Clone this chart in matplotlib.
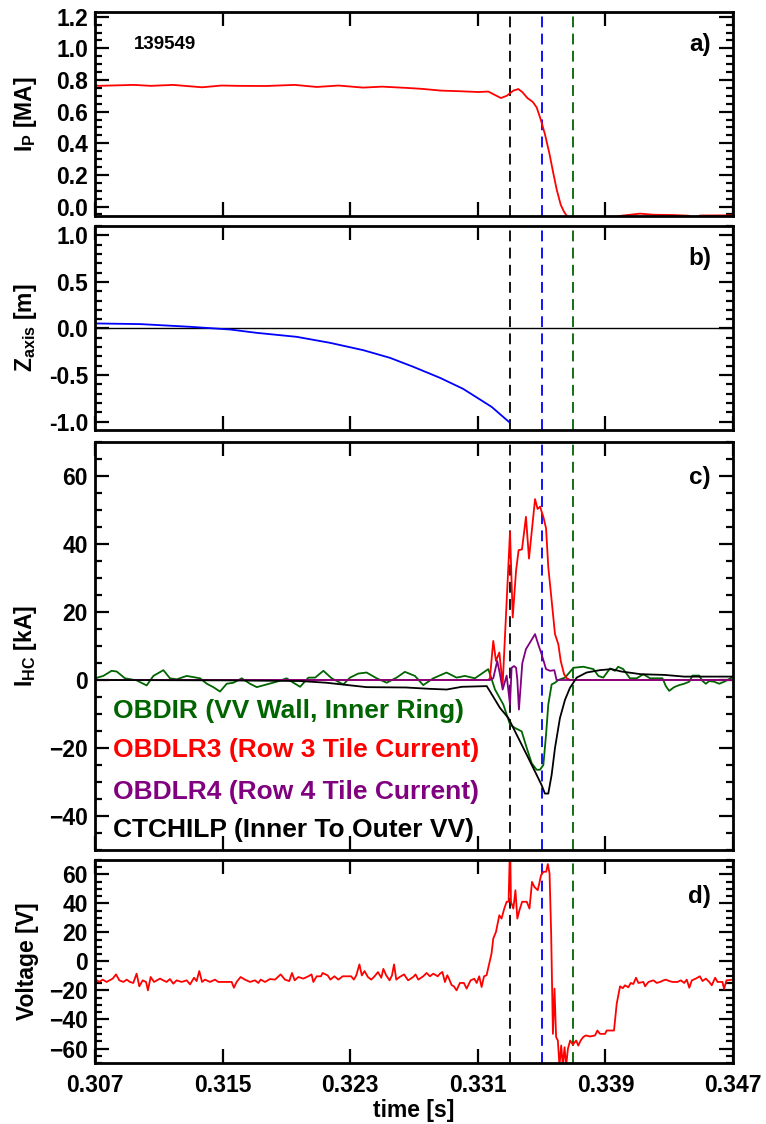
import numpy as np
import matplotlib
matplotlib.use('Agg')
import matplotlib.pyplot as plt
from matplotlib.ticker import MultipleLocator, FixedLocator

plt.rcParams['font.family'] = ['Liberation Sans', 'DejaVu Sans']
plt.rcParams['font.weight'] = 'bold'
plt.rcParams['mathtext.fontset'] = 'custom'
plt.rcParams['mathtext.bf'] = 'Liberation Sans:bold'
plt.rcParams['mathtext.rm'] = 'Liberation Sans:bold'
plt.rcParams['mathtext.it'] = 'Liberation Sans:bold'

# ---------------- data ----------------
shot = "139549"
event_times = [0.333, 0.335, 0.337]
event_colors = ['black', '#0000ff', '#006400']
xticks = [0.307, 0.315, 0.323, 0.331, 0.339, 0.347]

# (a) plasma current [MA]
ip_t = [0.30700, 0.30720, 0.30945, 0.31050, 0.31189, 0.31371, 0.31494, 0.31600, 0.31769,
        0.31952, 0.32090, 0.32227, 0.32380, 0.32500, 0.32654, 0.32750, 0.32868, 0.32988,
        0.33103, 0.33166, 0.33208, 0.33245, 0.33281, 0.33323, 0.33354, 0.33381, 0.33411,
        0.33444, 0.33469, 0.33494, 0.33521, 0.33548, 0.33573, 0.33595, 0.33620, 0.33640,
        0.33661, 0.33700, 0.33800, 0.33900, 0.33980, 0.34002, 0.34117, 0.34200, 0.34326,
        0.34420, 0.34450, 0.34480, 0.34493, 0.34660, 0.34700]
ip_v = [0.769, 0.763, 0.769, 0.763, 0.769, 0.754, 0.765, 0.763, 0.762,
        0.769, 0.756, 0.765, 0.752, 0.758, 0.750, 0.744, 0.733, 0.729,
        0.724, 0.727, 0.705, 0.686, 0.700, 0.733, 0.743, 0.722, 0.686,
        0.662, 0.627, 0.552, 0.457, 0.340, 0.213, 0.106, 0.011, -0.032,
        -0.064, -0.095, -0.105, -0.085, -0.063, -0.058, -0.045, -0.052, -0.054,
        -0.058, -0.068, -0.064, -0.057, -0.056, -0.056]

# (b) magnetic axis height [m]
z_t = [0.30700, 0.30982, 0.31296, 0.31546, 0.31714, 0.31965, 0.32173, 0.32382, 0.32549,
       0.32696, 0.32863, 0.33009, 0.33187, 0.33298]
z_v = [0.054, 0.047, 0.018, -0.011, -0.047, -0.090, -0.154, -0.233, -0.315,
       -0.412, -0.530, -0.649, -0.842, -1.007]

# (c) halo currents [kA]
obdir_t = [0.30700, 0.30752, 0.30804, 0.30836, 0.30888, 0.30961, 0.31024, 0.31066, 0.31129,
           0.31170, 0.31212, 0.31275, 0.31359, 0.31401, 0.31442, 0.31484, 0.31526, 0.31568,
           0.31620, 0.31672, 0.31714, 0.31777, 0.31839, 0.31902, 0.31944, 0.31986, 0.32038,
           0.32080, 0.32132, 0.32184, 0.32257, 0.32299, 0.32351, 0.32403, 0.32466, 0.32529,
           0.32591, 0.32643, 0.32706, 0.32758, 0.32821, 0.32904, 0.32967, 0.33019, 0.33082,
           0.33166, 0.33208, 0.33260, 0.33302, 0.33333, 0.33375, 0.33407, 0.33438, 0.33469,
           0.33490, 0.33511, 0.33528, 0.33542, 0.33563, 0.33584, 0.33605, 0.33647, 0.33700,
           0.33762, 0.33825, 0.33856, 0.33887, 0.33929, 0.33960, 0.33980, 0.34012, 0.34054,
           0.34096, 0.34138, 0.34180, 0.34222, 0.34258, 0.34279, 0.34300, 0.34331, 0.34363,
           0.34394, 0.34426, 0.34446, 0.34488, 0.34509, 0.34530, 0.34551, 0.34582, 0.34614,
           0.34645, 0.34700]
obdir_v = [0.5, 1.2, 2.7, 2.5, 0.5, -0.1, -1.6, 1.2, 2.9,
           0.5, 0.2, 1.2, 0.5, -1.1, -2.1, -3.4, -1.1, -0.8,
           0.5, -1.1, -2.1, -1.3, -0.5, 0.5, -0.8, -2.0, 0.7,
           0.7, 2.7, 0.5, -1.3, 0.7, 1.9, 2.2, 0.5, -0.8,
           0.7, 2.4, 1.2, -1.5, 0.5, 2.2, 0.7, 1.2, 0.5,
           3.2, -2.8, -7.2, -13.1, -14.1, -15.1, -20.0, -24.5, -26.4,
           -26.4, -25.0, -16.1, -7.2, -1.3, -0.8, 0.0, 0.7, 3.6,
           3.9, 3.2, 1.2, 0.7, 3.4, 2.7, 3.9, 3.2, 0.5,
           0.5, 1.7, 0.5, 0.5, 0.5, -1.8, -3.2, -2.1, -1.5,
           -1.1, -0.5, 1.3, 1.3, -0.3, -1.1, -0.3, -0.5, -1.1,
           -0.5, 0.9]

obdlr3_t = [0.30700, 0.33166, 0.33176, 0.33197, 0.33214, 0.33235, 0.33256, 0.33302, 0.33319,
            0.33340, 0.33356, 0.33377, 0.33402, 0.33421, 0.33459, 0.33475, 0.33490, 0.33511,
            0.33528, 0.33542, 0.33563, 0.33584, 0.33605, 0.33620, 0.33641, 0.33658, 0.33680,
            0.34700]
obdlr3_v = [0.0, 0.0, 0.5, 11.5, 5.6, 8.1, -1.3, 43.6, 18.4,
            32.2, 38.2, 38.4, 48.0, 35.7, 53.2, 50.3, 51.0, 48.0,
            44.6, 33.2, 23.4, 13.5, 10.5, 5.6, 1.7, 0.5, 0.0,
            0.0]

obdlr4_t = [0.30700, 0.33176, 0.33197, 0.33222, 0.33239, 0.33256, 0.33281, 0.33302, 0.33312,
            0.33327, 0.33340, 0.33348, 0.33358, 0.33379, 0.33402, 0.33427, 0.33459, 0.33479,
            0.33500, 0.33528, 0.33553, 0.33580, 0.33594, 0.34700]
obdlr4_v = [0.0, 0.0, 0.5, 5.6, 1.7, -2.8, 1.3, -7.2, 3.6,
            4.1, 3.6, 0.0, -8.7, 4.9, 9.1, 11.0, 13.5, 10.5,
            7.6, 3.2, 2.7, 2.9, 0.0, 0.0]

ctchilp_t = [0.30700, 0.31500, 0.31985, 0.32150, 0.32403, 0.32650, 0.32800, 0.32905, 0.33000,
             0.33156, 0.33176, 0.33239, 0.33292, 0.33344, 0.33407, 0.33469, 0.33500, 0.33521,
             0.33542, 0.33563, 0.33584, 0.33615, 0.33647, 0.33678, 0.33720, 0.33782, 0.33866,
             0.33939, 0.34000, 0.34123, 0.34269, 0.34394, 0.34700]
ctchilp_v = [0.0, -0.1, -0.3, -0.8, -2.1, -2.2, -2.6, -2.8, -2.0,
             -1.8, -3.3, -8.2, -11.2, -16.1, -22.0, -27.9, -30.9, -33.4,
             -33.4, -27.9, -20.0, -11.2, -5.8, -2.3, 0.7, 2.2, 2.9,
             3.2, 2.5, 1.7, 1.5, 1.0, 1.0]

hc_labels = ["OBDIR (VV Wall, Inner Ring)", "OBDLR3 (Row 3 Tile Current)",
             "OBDLR4 (Row 4 Tile Current)", "CTCHILP (Inner To Outer VV)"]
hc_colors = ['#006400', '#ff0000', '#800080', '#000000']

# (d) voltage [V]
volt_t = [0.30700, 0.30706, 0.30727, 0.30748, 0.30773, 0.30811, 0.30832, 0.30853, 0.30878,
          0.30899, 0.30919, 0.30940, 0.30961, 0.30978, 0.30999, 0.31020, 0.31032, 0.31049,
          0.31070, 0.31108, 0.31128, 0.31149, 0.31170, 0.31191, 0.31212, 0.31243, 0.31275,
          0.31296, 0.31321, 0.31337, 0.31354, 0.31371, 0.31390, 0.31421, 0.31452, 0.31473,
          0.31505, 0.31557, 0.31571, 0.31588, 0.31613, 0.31640, 0.31672, 0.31703, 0.31724,
          0.31739, 0.31766, 0.31797, 0.31829, 0.31864, 0.31891, 0.31918, 0.31935, 0.31952,
          0.31975, 0.32006, 0.32038, 0.32058, 0.32069, 0.32090, 0.32117, 0.32127, 0.32159,
          0.32176, 0.32201, 0.32226, 0.32253, 0.32306, 0.32323, 0.32338, 0.32358, 0.32373,
          0.32390, 0.32411, 0.32432, 0.32453, 0.32474, 0.32495, 0.32508, 0.32526, 0.32547,
          0.32562, 0.32575, 0.32589, 0.32610, 0.32638, 0.32663, 0.32695, 0.32710, 0.32727,
          0.32758, 0.32779, 0.32800, 0.32821, 0.32849, 0.32863, 0.32878, 0.32894, 0.32909,
          0.32920, 0.32936, 0.32950, 0.32967, 0.32988, 0.33013, 0.33030, 0.33055, 0.33078,
          0.33093, 0.33109, 0.33124, 0.33139, 0.33155, 0.33172, 0.33186, 0.33197, 0.33214,
          0.33235, 0.33249, 0.33266, 0.33281, 0.33293, 0.33300, 0.33304, 0.33308, 0.33323,
          0.33336, 0.33348, 0.33361, 0.33378, 0.33407, 0.33424, 0.33440, 0.33455, 0.33476,
          0.33497, 0.33512, 0.33529, 0.33539, 0.33550, 0.33560, 0.33571, 0.33581, 0.33591,
          0.33602, 0.33612, 0.33623, 0.33633, 0.33644, 0.33654, 0.33665, 0.33679, 0.33696,
          0.33717, 0.33730, 0.33745, 0.33761, 0.33778, 0.33803, 0.33835, 0.33850, 0.33866,
          0.33898, 0.33908, 0.33954, 0.33971, 0.33992, 0.34009, 0.34023, 0.34044, 0.34059,
          0.34075, 0.34092, 0.34107, 0.34138, 0.34149, 0.34170, 0.34201, 0.34222, 0.34243,
          0.34264, 0.34279, 0.34300, 0.34321, 0.34352, 0.34373, 0.34394, 0.34410, 0.34426,
          0.34442, 0.34467, 0.34492, 0.34509, 0.34530, 0.34551, 0.34567, 0.34588, 0.34603,
          0.34634, 0.34644, 0.34659, 0.34700]
volt_v = [-15.3, -12.5, -14.1, -12.5, -14.1, -11.8, -8.9, -13.0, -14.1,
          -12.5, -14.1, -14.8, -8.4, -17.1, -13.0, -14.1, -19.9, -10.7,
          -14.1, -11.8, -13.0, -14.1, -12.1, -15.3, -13.0, -14.1, -13.0,
          -15.8, -11.2, -13.5, -6.6, -14.1, -12.5, -14.1, -12.5, -14.1,
          -14.1, -14.1, -18.1, -14.1, -10.7, -12.5, -14.1, -13.0, -14.8,
          -12.5, -14.1, -12.1, -12.5, -8.9, -12.5, -13.5, -7.9, -13.0,
          -10.7, -11.8, -10.2, -8.9, -14.1, -10.2, -10.2, -7.9, -9.6,
          -12.5, -10.2, -12.5, -10.2, -10.2, -12.5, -9.6, -2.0, -9.6,
          -6.6, -10.7, -12.5, -10.2, -7.3, -11.2, -5.1, -9.6, -13.0,
          -9.6, -2.0, -12.5, -10.7, -8.9, -13.0, -10.7, -8.9, -12.5,
          -10.2, -7.9, -10.2, -8.4, -10.2, -8.4, -7.2, -14.1, -9.5,
          -12.0, -16.3, -17.1, -19.9, -14.8, -14.8, -18.7, -13.0, -11.9,
          -14.8, -10.2, -17.6, -10.2, -9.5, -1.5, 5.4, 15.8, 20.4,
          31.9, 29.6, 36.5, 41.2, 41.2, 72.0, 72.0, 41.2, 36.5,
          49.2, 29.6, 35.3, 41.2, 41.2, 36.5, 54.9, 51.4, 49.2,
          59.6, 61.9, 61.9, 67.2, 60.7, 19.3, -49.9, -18.7, -52.1,
          -54.5, -72.0, -57.9, -72.0, -59.1, -72.0, -60.2, -54.5, -57.3,
          -54.5, -58.0, -54.5, -52.1, -51.0, -51.7, -51.0, -47.6, -49.9,
          -49.9, -47.6, -47.6, -29.1, -17.1, -18.4, -16.4, -17.8, -14.8,
          -15.5, -11.2, -14.8, -14.1, -17.1, -14.1, -13.0, -14.8, -14.1,
          -13.0, -12.5, -13.5, -14.1, -14.1, -13.0, -14.8, -12.5, -18.1,
          -13.0, -11.8, -10.2, -13.5, -11.8, -14.1, -16.4, -11.2, -14.1,
          -14.1, -18.9, -13.0, -12.5]

# ---------------- figure ----------------
fig = plt.figure(figsize=(7.66, 11.24), dpi=100)
L, W = 0.1240, 0.8329
axa = fig.add_axes([L, 0.80783, W, 0.18149])
axb = fig.add_axes([L, 0.61744, W, 0.18149])
axc = fig.add_axes([L, 0.24377, W, 0.36299])
axd = fig.add_axes([L, 0.05427, W, 0.18061])
axes = [axa, axb, axc, axd]

TICKFS = 16.5
LW = 1.3

axa.plot(ip_t, ip_v, color='#ff0000', lw=LW)
axb.axhline(0, color='black', lw=1.0)
axb.plot(z_t, z_v, color='#0000ff', lw=LW)
axc.plot(obdir_t, obdir_v, color=hc_colors[0], lw=LW)
axc.plot(obdlr3_t, obdlr3_v, color=hc_colors[1], lw=LW)
axc.plot(obdlr4_t, obdlr4_v, color=hc_colors[2], lw=LW)
axc.plot(ctchilp_t, ctchilp_v, color=hc_colors[3], lw=LW)
axd.plot(volt_t, volt_v, color='#ff0000', lw=LW)

for ax in axes:
    for t, c in zip(event_times, event_colors):
        ax.axvline(t, color=c, lw=1.3, ls=(0, (6, 3.5)), zorder=1)
    ax.set_xlim(xticks[0], xticks[-1])
    ax.xaxis.set_major_locator(FixedLocator(xticks))
    ax.tick_params(axis='both', which='both', direction='in', top=True, right=True,
                   labelsize=TICKFS, width=1.6)
    ax.tick_params(which='major', length=10)
    ax.tick_params(which='minor', length=5)
    ax.tick_params(axis='y', pad=5)
    for s in ax.spines.values():
        s.set_linewidth(2.0)
    if ax is not axd:
        ax.tick_params(axis='x', labelbottom=False)

axd.set_xticklabels(['%.3f' % v for v in xticks])
axd.tick_params(axis='x', pad=8)
axd.set_xlabel('time [s]', fontsize=16.5, fontweight='bold', labelpad=1)

axa.set_ylim(-0.06, 1.23)
axa.yaxis.set_major_locator(MultipleLocator(0.2))
axa.yaxis.set_minor_locator(MultipleLocator(0.05))
axa.yaxis.set_major_formatter(matplotlib.ticker.FormatStrFormatter('%.1f'))

axb.set_ylim(-1.09, 1.10)
axb.yaxis.set_major_locator(MultipleLocator(0.5))
axb.yaxis.set_minor_locator(MultipleLocator(0.1))
axb.yaxis.set_major_formatter(matplotlib.ticker.FormatStrFormatter('%.1f'))

axc.set_ylim(-50, 70)
axc.yaxis.set_major_locator(MultipleLocator(20))
axc.yaxis.set_minor_locator(MultipleLocator(5))

axd.set_ylim(-70, 70)
axd.yaxis.set_major_locator(MultipleLocator(20))
axd.yaxis.set_minor_locator(MultipleLocator(5))

labx = -0.088
axa.set_ylabel(r'$\mathbf{I_P}$ [MA]', fontsize=16.5, fontweight='bold')
axb.set_ylabel(r'$\mathbf{Z_{axis}}$ [m]', fontsize=16.5, fontweight='bold')
axc.set_ylabel(r'$\mathbf{I_{HC}}$ [kA]', fontsize=16.5, fontweight='bold')
axd.set_ylabel('Voltage [V]', fontsize=16.5, fontweight='bold')
for ax in axes:
    ax.yaxis.set_label_coords(labx, 0.5)

axa.text(0.11, 0.84, shot, transform=axa.transAxes, fontsize=13.5, fontweight='bold',
         ha='center', va='center')
for ax, lab, yy in [(axa, 'a)', 0.84), (axb, 'b)', 0.843), (axc, 'c)', 0.912), (axd, 'd)', 0.818)]:
    ax.text(0.948, yy, lab, transform=ax.transAxes, fontsize=17.5, fontweight='bold',
            ha='center', va='center')

for lab, col, yy in zip(hc_labels, hc_colors, [0.341, 0.245, 0.142, 0.049]):
    axc.text(0.028, yy, lab, transform=axc.transAxes, color=col, fontsize=19,
             fontweight='bold', ha='left', va='center')

fig.savefig('out.png', dpi=100)
